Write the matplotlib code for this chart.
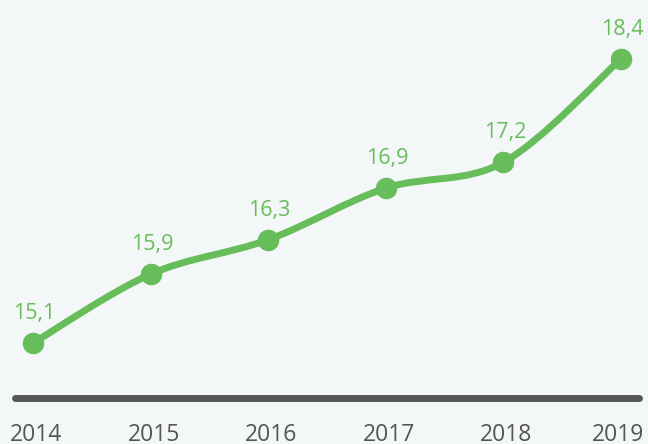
import matplotlib.pyplot as plt
from matplotlib.path import Path
from matplotlib.patches import PathPatch

plt.rcParams['font.family'] = ['Open Sans', 'DejaVu Sans']

years = ["2014", "2015", "2016", "2017", "2018", "2019"]
values = [15.1, 15.9, 16.3, 16.9, 17.2, 18.4]
labels = ["15,1", "15,9", "16,3", "16,9", "17,2", "18,4"]

green = "#68bd5b"
bg = "#f4f7f8"
dark = "#555555"

fig = plt.figure(figsize=(6.48, 4.44), dpi=100, facecolor=bg)
ax = fig.add_axes([0, 0, 1, 1])
ax.set_facecolor(bg)

xs = list(range(len(years)))

# smooth curve through the points (catmull-rom as cubic bezier)
verts = [(xs[0], values[0])]
codes = [Path.MOVETO]
n = len(xs)
for i in range(n - 1):
    p0 = (xs[max(i - 1, 0)], values[max(i - 1, 0)])
    p1 = (xs[i], values[i])
    p2 = (xs[i + 1], values[i + 1])
    p3 = (xs[min(i + 2, n - 1)], values[min(i + 2, n - 1)])
    c1 = (p1[0] + (p2[0] - p0[0]) / 6, p1[1] + (p2[1] - p0[1]) / 6)
    c2 = (p2[0] - (p3[0] - p1[0]) / 6, p2[1] - (p3[1] - p1[1]) / 6)
    verts += [c1, c2, p2]
    codes += [Path.CURVE4] * 3
ax.add_patch(PathPatch(Path(verts, codes), facecolor="none", edgecolor=green,
                       lw=5, capstyle="round", joinstyle="round", zorder=3))

ax.plot(xs, values, "o", color=green, markersize=14.5, zorder=4)

for x, v, lab in zip(xs, values, labels):
    ax.annotate(lab, (x, v), xytext=(1, 17.3), textcoords="offset points",
                ha="center", va="baseline", color=green, fontsize=15.5)

# baseline
ax.plot([-0.153, 5.157], [14.46, 14.46], color=dark, lw=5,
        solid_capstyle="round", zorder=2)

for x, y in zip(xs, years):
    dx = -2.2 if x == xs[-1] else 2.2
    ax.annotate(y, (x, 13.957), xytext=(dx, 0), textcoords="offset points",
                ha="center", va="baseline", color=dark, fontsize=16.5)

ax.set_xlim(-0.281, 5.230)
ax.set_ylim(13.926, 19.086)
ax.axis("off")

fig.savefig("out.png", dpi=100, facecolor=bg)
